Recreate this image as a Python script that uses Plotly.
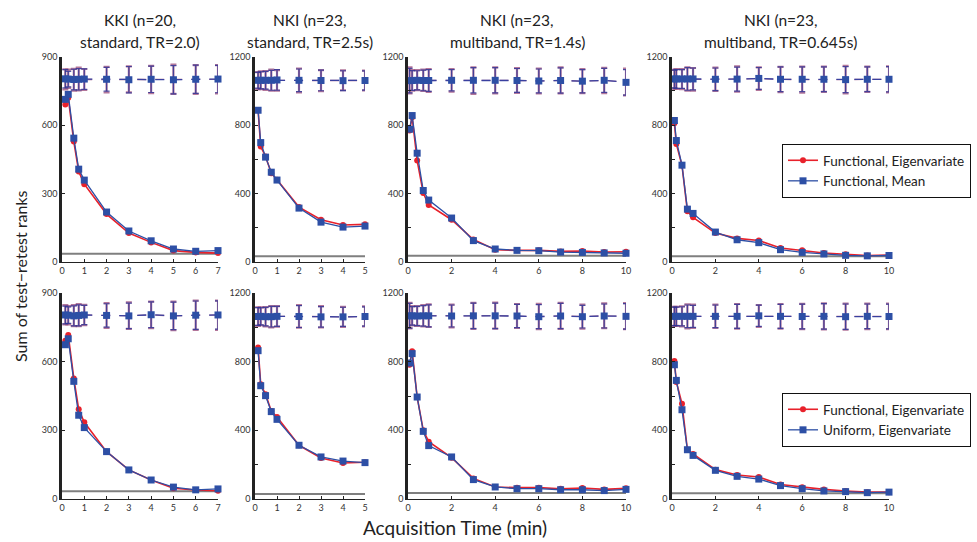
import plotly.graph_objects as go

W, H = 977, 542

# ---------------- data ----------------
panel_titles = [("KKI (n=20,", "standard, TR=2.0)"),
                ("NKI (n=23,", "standard, TR=2.5s)"),
                ("NKI (n=23,", "multiband, TR=1.4s)"),
                ("NKI (n=23,", "multiband, TR=0.645s)")]

x_kki = [0.15, 0.28, 0.53, 0.75, 1, 2, 3, 4, 5, 6, 7]
x_std = [0.14, 0.26, 0.48, 0.74, 1, 2, 3, 4, 5]
x_mb14 = [0.07, 0.19, 0.42, 0.7, 0.95, 2, 3, 4, 5, 6, 7, 8, 9, 10]
x_mb0645 = [0.11, 0.2, 0.46, 0.71, 0.97, 2, 3, 4, 5, 6, 7, 8, 9, 10]

x_max = [7, 5, 10, 10]
y_max = [900, 1200, 1200, 1200]
x_ticks = [[0, 1, 2, 3, 4, 5, 6, 7], [0, 1, 2, 3, 4, 5],
           [0, 2, 4, 6, 8, 10], [0, 2, 4, 6, 8, 10]]
y_ticks = [[0, 300, 600, 900], [0, 200, 400, 600, 800, 1000, 1200],
           [0, 200, 400, 600, 800, 1000, 1200], [0, 200, 400, 600, 800, 1000, 1200]]
y_ticklabels = [["0", "300", "600", "900"],
                ["0", "", "400", "", "800", "", "1200"],
                ["0", "", "400", "", "800", "", "1200"],
                ["0", "", "400", "", "800", "", "1200"]]

# chance level (gray line)
baseline_top = [36, 33, 37, 33]
baseline_bot = [34, 29, 35, 33]

# top row: Functional, Eigenvariate (red) vs Functional, Mean (blue)
top_red = [
    [691, 720, 528, 397, 341, 210, 127, 86, 50, 42, 39],
    [887, 675, 617, 519, 481, 321, 247, 216, 220],
    [768, 846, 593, 403, 333, 247, 131, 72, 68, 68, 62, 64, 58, 60],
    [811, 690, 564, 296, 261, 169, 138, 126, 82, 68, 53, 45, 38, 40],
]
top_blue = [
    [713, 735, 543, 407, 359, 219, 136, 93, 57, 47, 50],
    [887, 698, 613, 525, 479, 315, 233, 204, 210],
    [776, 856, 636, 418, 362, 257, 125, 76, 68, 66, 58, 56, 53, 51],
    [827, 710, 566, 309, 284, 175, 130, 113, 72, 56, 47, 39, 36, 38],
]
top_null_red = [
    [801, 803, 799, 802, 800, 799, 801, 800, 801, 800, 801],
    [1060, 1062, 1061, 1063, 1062, 1061, 1060, 1062, 1061],
    [1062, 1061, 1063, 1062, 1061, 1062, 1060, 1062, 1061, 1058, 1062, 1057, 1061, 1052],
    [1068, 1070, 1069, 1070, 1068, 1068, 1069, 1072, 1067, 1066, 1068, 1066, 1068, 1068],
]
top_null_red_err = [
    [44, 40, 48, 50, 46, 56, 57, 60, 64, 63, 62],
    [50, 52, 55, 62, 60, 70, 62, 58, 58],
    [76, 60, 58, 62, 67, 66, 78, 76, 72, 73, 76, 70, 74, 78],
    [55, 58, 58, 68, 66, 68, 74, 66, 74, 76, 74, 80, 74, 76],
]
top_null_blue = [
    [803, 802, 800, 801, 802, 801, 799, 801, 799, 801, 802],
    [1062, 1062, 1062, 1062, 1064, 1062, 1061, 1060, 1061],
    [1060, 1061, 1062, 1061, 1061, 1062, 1062, 1062, 1061, 1058, 1061, 1057, 1062, 1050],
    [1070, 1070, 1070, 1070, 1070, 1068, 1069, 1073, 1068, 1068, 1068, 1066, 1068, 1068],
]
top_null_blue_err = [
    [40, 34, 45, 47, 45, 52, 58, 58, 62, 62, 60],
    [46, 50, 52, 58, 60, 66, 60, 58, 56],
    [72, 58, 56, 60, 64, 62, 74, 74, 70, 70, 74, 68, 70, 75],
    [52, 55, 55, 66, 64, 66, 70, 64, 72, 72, 72, 76, 72, 74],
]

# bottom row: Functional, Eigenvariate (red) vs Uniform, Eigenvariate (blue)
bot_red = [
    [691, 717, 527, 392, 335, 207, 127, 83, 47, 39, 36],
    [883, 668, 610, 513, 478, 313, 239, 210, 214],
    [782, 860, 594, 400, 334, 241, 120, 70, 66, 66, 60, 64, 56, 62],
    [804, 682, 555, 287, 262, 171, 140, 128, 84, 68, 56, 47, 40, 40],
]
bot_blue = [
    [674, 700, 514, 366, 312, 207, 127, 83, 52, 40, 44],
    [864, 660, 602, 509, 464, 313, 245, 221, 212],
    [792, 847, 594, 394, 311, 245, 113, 70, 60, 60, 54, 54, 49, 56],
    [782, 691, 520, 287, 254, 167, 132, 116, 78, 60, 47, 43, 37, 40],
]
bot_null_red = [
    [805, 803, 801, 803, 804, 802, 801, 804, 800, 803, 803],
    [1063, 1064, 1062, 1062, 1064, 1064, 1061, 1061, 1064],
    [1068, 1067, 1066, 1067, 1068, 1066, 1067, 1068, 1066, 1063, 1067, 1063, 1067, 1065],
    [1064, 1064, 1064, 1064, 1064, 1064, 1064, 1066, 1064, 1063, 1064, 1062, 1064, 1064],
]
bot_null_red_err = [
    [42, 40, 46, 48, 44, 54, 58, 58, 62, 64, 64],
    [54, 52, 56, 62, 60, 66, 62, 58, 58],
    [74, 56, 58, 62, 66, 66, 76, 76, 70, 74, 76, 70, 72, 76],
    [56, 56, 58, 70, 68, 68, 72, 64, 72, 74, 76, 76, 74, 74],
]
bot_null_blue = [
    [804, 803, 800, 802, 804, 802, 800, 805, 800, 803, 804],
    [1063, 1064, 1062, 1062, 1064, 1063, 1061, 1061, 1063],
    [1067, 1067, 1066, 1067, 1067, 1066, 1067, 1067, 1066, 1062, 1066, 1062, 1066, 1064],
    [1064, 1064, 1064, 1064, 1064, 1064, 1064, 1067, 1064, 1063, 1064, 1062, 1064, 1063],
]
bot_null_blue_err = [
    [39, 36, 44, 46, 42, 51, 56, 56, 60, 62, 62],
    [52, 50, 54, 60, 58, 64, 60, 56, 56],
    [72, 54, 56, 60, 64, 64, 74, 74, 68, 70, 74, 66, 70, 74],
    [54, 54, 56, 66, 64, 66, 70, 62, 70, 72, 74, 74, 72, 72],
]

x_lists = [x_kki, x_std, x_mb14, x_mb0645]

legend_top = ["Functional, Eigenvariate", "Functional, Mean"]
legend_bot = ["Functional, Eigenvariate", "Uniform, Eigenvariate"]

# ---------------- style / layout ----------------
RED = "#e8212b"
BLUE = "#2d4fa5"
FONT = "Lato, 'Open Sans', sans-serif"

col_px = [(62, 218), (255, 365), (408, 626), (672, 889)]
row_px = [(56.7, 262), (293, 499)]  # (top, bottom) in pixels

fig = go.Figure()
layout = dict(
    width=W, height=H, margin=dict(l=0, r=0, t=0, b=0, autoexpand=False),
    plot_bgcolor="white", paper_bgcolor="white",
    font=dict(family=FONT, color="#333"),
    showlegend=True,
)

annotations = []
for r in range(2):
    for c in range(4):
        idx = r * 4 + c + 1
        xa = "xaxis" if idx == 1 else f"xaxis{idx}"
        ya = "yaxis" if idx == 1 else f"yaxis{idx}"
        xref = "x" if idx == 1 else f"x{idx}"
        yref = "y" if idx == 1 else f"y{idx}"
        x0, x1 = col_px[c]
        yt, yb = row_px[r]
        layout[xa] = dict(
            domain=[x0 / W, x1 / W], anchor=yref, range=[0, x_max[c]],
            tickvals=x_ticks[c], ticks="inside", ticklen=3, tickcolor="#222",
            showline=True, linecolor="#222", linewidth=1, showgrid=False,
            zeroline=False, tickfont=dict(size=9, color="#333", family=FONT),
        )
        layout[ya] = dict(
            domain=[1 - yb / H, 1 - yt / H], anchor=xref, range=[0, y_max[c]],
            tickvals=y_ticks[c], ticktext=y_ticklabels[c], ticks="inside",
            ticklen=3, tickcolor="#222", showline=True, linecolor="#222",
            linewidth=2.5, showgrid=False, zeroline=False,
            tickfont=dict(size=9, color="#333", family=FONT),
        )

        xs = x_lists[c]
        if r == 0:
            red, blue = top_red[c], top_blue[c]
            nr, nre = top_null_red[c], top_null_red_err[c]
            nb, nbe = top_null_blue[c], top_null_blue_err[c]
            base = baseline_top[c]
            names = legend_top
            leg = "legend"
        else:
            red, blue = bot_red[c], bot_blue[c]
            nr, nre = bot_null_red[c], bot_null_red_err[c]
            nb, nbe = bot_null_blue[c], bot_null_blue_err[c]
            base = baseline_bot[c]
            names = legend_bot
            leg = "legend2"

        # chance-level line
        fig.add_trace(go.Scatter(
            x=[0, x_max[c]], y=[base, base], mode="lines",
            line=dict(color="#7f7f7f", width=2), xaxis=xref, yaxis=yref,
            showlegend=False, hoverinfo="skip"))
        # null distributions
        fig.add_trace(go.Scatter(
            x=xs, y=nr, mode="lines", line=dict(color="rgba(150,80,130,0.85)", width=1.3, dash="dash"),
            error_y=dict(type="data", array=nre, visible=True, color="rgba(160,85,130,0.8)",
                         thickness=2.2, width=3),
            xaxis=xref, yaxis=yref, showlegend=False, cliponaxis=False))
        fig.add_trace(go.Scatter(
            x=xs, y=nb, mode="lines+markers",
            line=dict(color="rgba(45,60,160,0.9)", width=1.3, dash="dash"),
            marker=dict(symbol="square", size=7, color=BLUE),
            error_y=dict(type="data", array=nbe, visible=True, color="rgba(40,50,150,0.8)",
                         thickness=1.2, width=3),
            xaxis=xref, yaxis=yref, showlegend=False, cliponaxis=False))
        # observed curves
        fig.add_trace(go.Scatter(
            x=xs, y=red, mode="lines+markers", name=names[0],
            line=dict(color=RED, width=1.6), marker=dict(symbol="circle", size=6, color=RED),
            xaxis=xref, yaxis=yref, showlegend=(c == 3), legend=leg, cliponaxis=False))
        fig.add_trace(go.Scatter(
            x=xs, y=blue, mode="lines+markers", name=names[1],
            line=dict(color=BLUE, width=1.3), marker=dict(symbol="square", size=7, color=BLUE),
            xaxis=xref, yaxis=yref, showlegend=(c == 3), legend=leg, cliponaxis=False))

        if r == 0:
            cx = (x0 + x1) / 2 / W
            for ty, txt in zip((20, 42), panel_titles[c]):
                annotations.append(dict(
                    text=txt, x=cx, y=1 - ty / H, xref="paper", yref="paper",
                    xanchor="center", yanchor="middle", showarrow=False,
                    font=dict(size=15.5, color="#222", family=FONT)))

annotations.append(dict(
    text="Sum of test\u2212retest ranks", x=20 / W, y=1 - 276 / H, xref="paper", yref="paper",
    xanchor="center", yanchor="middle", textangle=-90, showarrow=False,
    font=dict(size=16, color="#222", family=FONT)))
annotations.append(dict(
    text="Acquisition Time (min)", x=455 / W, y=1 - 527 / H, xref="paper", yref="paper",
    xanchor="center", yanchor="middle", showarrow=False,
    font=dict(size=19, color="#222", family=FONT)))

leg_common = dict(
    xanchor="left", yanchor="top", bgcolor="white", bordercolor="#111", borderwidth=1,
    font=dict(size=13.5, color="#222", family=FONT), tracegroupgap=0, itemwidth=30,
)
layout["legend"] = dict(x=782 / W, y=1 - 144 / H, **leg_common)
layout["legend2"] = dict(x=782 / W, y=1 - 393 / H, **leg_common)
layout["annotations"] = annotations

fig.update_layout(**layout)
fig.write_html("out.html", config={"displayModeBar": False},
               post_script="document.body.style.margin='0px';document.body.style.overflow='hidden';")
